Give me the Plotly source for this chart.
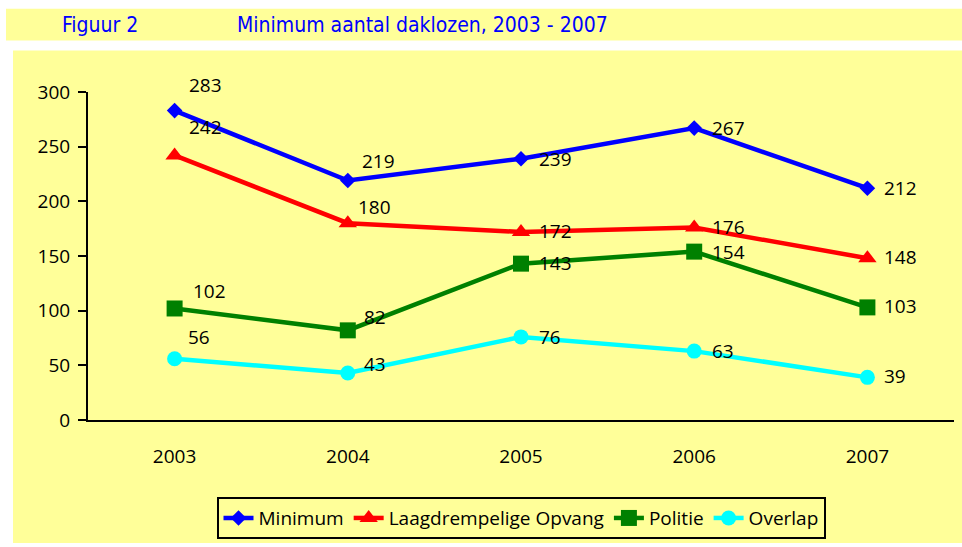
import plotly.graph_objects as go

# ---------------- data ----------------
years = ["2003", "2004", "2005", "2006", "2007"]
minimum = [283, 219, 239, 267, 212]
laagdrempelig = [242, 180, 172, 176, 148]
politie = [102, 82, 143, 154, 103]
overlap = [56, 43, 76, 63, 39]
series_names = ["Minimum", "Laagdrempelige Opvang", "Politie", "Overlap"]
y_ticks = [0, 50, 100, 150, 200, 250, 300]
title_left = "Figuur 2"
title_main = "Minimum aantal daklozen, 2003 - 2007"

# ---------------- styles ----------------
W, H = 962, 547
L, R, T, B = 88, 8, 92, 124
PW, PH = W - L - R, H - T - B
YELLOW = "#FFFF99"
FONT = "Open Sans, DejaVu Sans, sans-serif"
TITLE_FONT = "Liberation Sans Narrow, DejaVu Sans Condensed, sans-serif"

colors = ["#0000FF", "#FF0000", "#008000", "#00FFFF"]
symbols = ["diamond", "triangle-up", "square", "circle"]
msizes = [12, 16, 16, 15]
# label offsets (dx right, dy down) in pixels per series / point
label_offsets = [
    [(14, -26), (14, -20), (18, 0), (18, 0), (17, 0)],
    [(14, -28), (10, -16), (18, -1), (18, -1), (17, -1)],
    [(18, -17), (16, -13), (18, -1), (18, 0), (17, -1)],
    [(13, -22), (16, -9), (18, 0), (18, 0), (17, -1)],
]


def px_x(px):
    return (px - L) / PW


def px_y(py):
    return (H - B - py) / PH


all_series = [minimum, laagdrempelig, politie, overlap]

fig = go.Figure()
for name, vals, c, s, ms in zip(series_names, all_series, colors, symbols, msizes):
    fig.add_trace(go.Scatter(
        x=years, y=vals, name=name, mode="lines+markers",
        line=dict(color=c, width=4.5),
        marker=dict(symbol=s, size=ms, color=c, line=dict(width=0)),
        hoverinfo="skip",
    ))

annotations = []
for vals, offs in zip(all_series, label_offsets):
    for i, (v, (dx, dy)) in enumerate(zip(vals, offs)):
        annotations.append(dict(
            x=i, y=v, xref="x", yref="y", text=str(v), showarrow=False,
            xanchor="left", yanchor="middle", xshift=dx - 2, yshift=-dy,
            font=dict(family=FONT, size=19, color="black"),
        ))

# title band texts
annotations.append(dict(
    x=px_x(60), y=px_y(24), xref="paper", yref="paper", text=title_left,
    showarrow=False, xanchor="left", yanchor="middle",
    font=dict(family=TITLE_FONT, size=21, color="#0000FF"),
))
annotations.append(dict(
    x=px_x(235), y=px_y(24), xref="paper", yref="paper", text=title_main,
    showarrow=False, xanchor="left", yanchor="middle",
    font=dict(family=TITLE_FONT, size=21, color="#0000FF"),
))

shapes = [
    dict(type="rect", xref="paper", yref="paper", layer="below",
         x0=px_x(6), x1=px_x(W), y0=px_y(40), y1=px_y(8),
         fillcolor=YELLOW, line=dict(width=0)),
    dict(type="rect", xref="paper", yref="paper", layer="below",
         x0=px_x(13), x1=px_x(W), y0=px_y(H), y1=px_y(50),
         fillcolor=YELLOW, line=dict(width=0)),
]

fig.update_layout(
    width=W, height=H,
    margin=dict(l=L, r=R, t=T, b=B, pad=0),
    paper_bgcolor="white",
    plot_bgcolor="rgba(0,0,0,0)",
    font=dict(family=FONT, size=19, color="black"),
    showlegend=True,
    legend=dict(
        orientation="h", x=px_x(521), y=px_y(522), xanchor="center", yanchor="middle",
        bgcolor="rgba(0,0,0,0)", bordercolor="black", borderwidth=2,
        font=dict(family=FONT, size=19, color="black"),
        itemclick=False, itemdoubleclick=False,
    ),
    annotations=annotations,
    shapes=shapes,
    xaxis=dict(
        type="category", range=[-0.5, 4.5], showline=True, linecolor="black",
        linewidth=2, ticks="", showgrid=False, zeroline=False,
        ticklabelstandoff=18, tickfont=dict(family=FONT, size=19, color="black"),
    ),
    yaxis=dict(
        range=[0, 300], tickvals=y_ticks, showline=True, linecolor="black",
        linewidth=2, ticks="outside", ticklen=8, tickwidth=2, tickcolor="black",
        showgrid=False, zeroline=False, ticklabelstandoff=4,
        tickfont=dict(family=FONT, size=19, color="black"),
    ),
)

fig.write_html(
    "out.html",
    config={"displayModeBar": False},
    post_script="document.body.style.margin='0';document.body.style.overflow='hidden';",
)
